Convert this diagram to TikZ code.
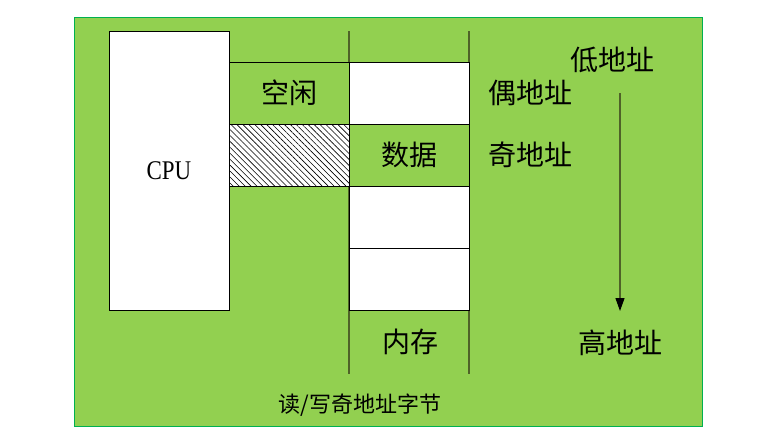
\documentclass[tikz,border=0pt]{standalone}
\usepackage{fontspec}
\newfontfamily\cjk{Noto Sans CJK SC}
\newfontfamily\cpufont{Liberation Serif}
\usetikzlibrary{arrows.meta, positioning, patterns.meta}
\definecolor{bggreen}{HTML}{92D050}
\definecolor{framegreen}{HTML}{00B050}
\definecolor{colline}{HTML}{4F6228}

\begin{document}
\begin{tikzpicture}[x=1pt, y=-1pt, node distance=0pt,
    cell/.style={rectangle, draw, line width=0.8pt, inner sep=0pt, outer sep=0pt,
      minimum width=120pt, minimum height=62pt},
    label/.style={font=\cjk\fontsize{28}{30}\selectfont, inner sep=0pt},
    addr/.style={colline, line width=1.2pt, -{Triangle[width=9pt,length=13pt,black]}}]
\useasboundingbox (0,0) rectangle (780,440);
\fill[bggreen, draw=framegreen, line width=1pt] (74,17) rectangle (702,426);
% memory column
\coordinate (c1top) at (349,31);
\coordinate (c1bot) at (349,374);
\coordinate (c2top) at (469,31);
\coordinate (c2bot) at (469,374);
\draw[colline, line width=1.2pt] (c1top) -- (c1bot);
\draw[colline, line width=1.2pt] (c2top) -- (c2bot);
\node (m1) [cell, fill=white] at (409,93) {};
\node (m2) [cell, fill=bggreen, below=of m1, label] {数据};
\node (m3) [cell, fill=white, below=of m2] {};
\node (m4) [cell, fill=white, below=of m3] {};
% cpu side
\node (free) [cell, fill=bggreen, left=of m1, label] {空闲};
\node (busy) [cell, below=of free, preaction={fill=white},
  pattern={Lines[angle=-45, distance=4.2pt, line width=0.6pt]}] {};
\node (cpu) [cell, fill=white, anchor=north east, minimum height=279pt]
  at (229,31) {\cpufont\fontsize{27}{29}\selectfont\scalebox{0.85}[1]{CPU}};
% labels
\node (mem) [label] at (410,342) {内存};
\node (even) [label] at (530,93) {偶地址};
\node (odd) [label] at (530,155) {奇地址};
\node (low) [label] at (612,60) {低地址};
\node (high) [label] at (620,343) {高地址};
\node (rw) [label, font=\cjk\fontsize{22}{24}\selectfont] at (360,405) {读/写奇地址字节};
\coordinate (atop) at (620,93);
\coordinate (abot) at (620,311);
\draw [addr] (atop) -- (abot);
\end{tikzpicture}
\end{document}
